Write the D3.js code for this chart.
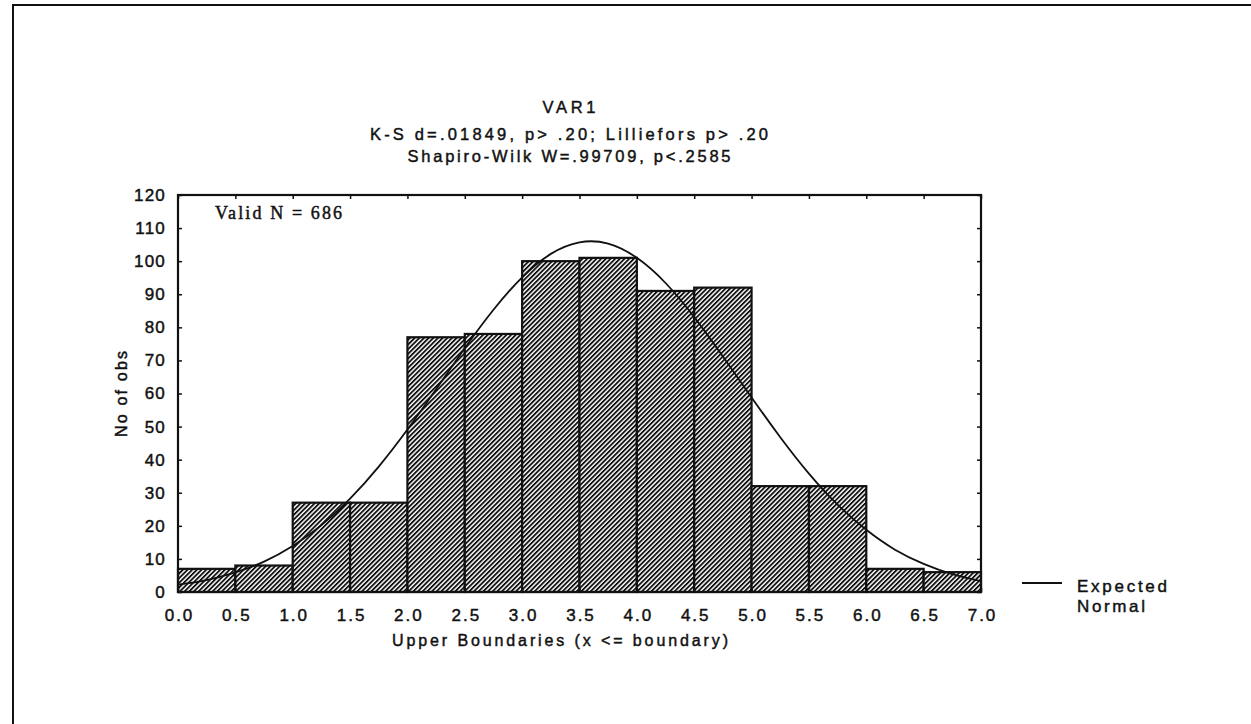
<!DOCTYPE html>
<html>
<head>
<meta charset="utf-8">
<script src="https://cdn.jsdelivr.net/npm/d3@7"></script>
<style>
  body { margin: 0; background: #fff; }
  svg text { font-family: "Liberation Sans", Arial, sans-serif; fill: #111; stroke: #111; stroke-width: 0.45px; }
</style>
</head>
<body>
<div id="chart"></div>
<script>
'use strict';

// histogram bins: upper boundaries and counts
const binUpper = [0.5, 1.0, 1.5, 2.0, 2.5, 3.0, 3.5, 4.0, 4.5, 5.0, 5.5, 6.0, 6.5, 7.0];
const binCounts = [7, 8, 27, 27, 77, 78, 100, 101, 91, 92, 32, 32, 7, 6];
const binWidth = 0.5;

// expected normal curve
const normalX = [0, 0.25, 0.5, 0.75, 1.0, 1.25, 1.5, 1.75, 2.0, 2.25, 2.5, 2.75, 3.0, 3.25, 3.5,
    3.75, 4.0, 4.25, 4.5, 4.75, 5.0, 5.25, 5.5, 5.75, 6.0, 6.25, 6.5, 6.75, 7.0];
const normalY = [2.2, 3.6, 5.9, 9.2, 13.9, 20.2, 28.2, 37.9, 49.1, 61.3, 73.7, 85.3, 95.1, 102.2, 105.7,
    105.3, 101.0, 93.4, 83.1, 71.2, 58.8, 46.8, 35.8, 26.4, 18.8, 12.8, 8.5, 5.4, 3.3];

const xTicks = [0, 0.5, 1, 1.5, 2, 2.5, 3, 3.5, 4, 4.5, 5, 5.5, 6, 6.5, 7];
const yTicks = [0, 10, 20, 30, 40, 50, 60, 70, 80, 90, 100, 110, 120];

const titleLines = ['VAR1', 'K-S d=.01849, p> .20; Lilliefors p> .20', 'Shapiro-Wilk W=.99709, p<.2585'];

const settings = {
    width: 1251,
    height: 724,
    elId: '#chart',
};

const plot = { left: 178, right: 981, top: 195, bottom: 592 };

const svg = d3.select(settings.elId)
    .append('svg')
    .attr('width', settings.width)
    .attr('height', settings.height);

// page frame (only top and left edges visible in the scan)
svg.append('path')
    .attr('d', `M13,${settings.height} L13,5 L${settings.width},5`)
    .attr('fill', 'none')
    .attr('stroke', '#111')
    .attr('stroke-width', 2);

// hatch pattern for the bars
const defs = svg.append('defs');
const hatch = defs.append('pattern')
    .attr('id', 'hatch')
    .attr('patternUnits', 'userSpaceOnUse')
    .attr('width', 3.3)
    .attr('height', 3.3)
    .attr('patternTransform', 'rotate(45)');
hatch.append('rect').attr('width', 3.3).attr('height', 3.3).attr('fill', '#fff');
hatch.append('line')
    .attr('x1', 0.9).attr('y1', 0).attr('x2', 0.9).attr('y2', 3.3)
    .attr('stroke', '#111').attr('stroke-width', 1.9);

const x = d3.scaleLinear().domain([0, 7]).range([plot.left, plot.right]);
const y = d3.scaleLinear().domain([0, 120]).range([plot.bottom, plot.top]);

// Title
svg.append('g')
    .attr('id', 'title')
    .selectAll('text')
    .data(titleLines)
    .enter()
    .append('text')
    .attr('x', 569)
    .attr('y', (_, i) => [113, 140, 162][i])
    .attr('text-anchor', 'middle')
    .attr('font-size', 16.5)
    .attr('textLength', (_, i) => [53, 398, 323][i])
    .attr('lengthAdjust', 'spacing')
    .text(d => d);

// Bars
svg.append('g')
    .attr('id', 'bars')
    .selectAll('rect')
    .data(binCounts)
    .enter()
    .append('rect')
    .attr('x', (_, i) => x(binUpper[i] - binWidth))
    .attr('y', d => y(d))
    .attr('width', (_, i) => x(binUpper[i]) - x(binUpper[i] - binWidth))
    .attr('height', d => y(0) - y(d))
    .attr('fill', 'url(#hatch)')
    .attr('stroke', '#111')
    .attr('stroke-width', 2.2);

// Expected normal curve
const line = d3.line()
    .x((d, i) => x(normalX[i]))
    .y(d => y(d))
    .curve(d3.curveNatural);

svg.append('path')
    .datum(normalY)
    .attr('d', line)
    .attr('fill', 'none')
    .attr('stroke', '#111')
    .attr('stroke-width', 1.8);

// Plot frame
svg.append('rect')
    .attr('x', plot.left)
    .attr('y', plot.top)
    .attr('width', plot.right - plot.left)
    .attr('height', plot.bottom - plot.top)
    .attr('fill', 'none')
    .attr('stroke', '#111')
    .attr('stroke-width', 2.2);

// Axes
const yAxis = d3.axisLeft(y).tickValues(yTicks).tickSize(-4).tickPadding(12).tickFormat(d3.format('d'));
const yRight = d3.axisRight(y).tickValues(yTicks).tickSize(-4).tickFormat('');
const xAxis = d3.axisBottom(x).tickValues(xTicks).tickSize(-4).tickPadding(17).tickFormat(d3.format('.1f'));
const xTop = d3.axisTop(x).tickValues(xTicks).tickSize(-4).tickFormat('');

function styleAxis(g) {
    g.select('.domain').remove();
    g.selectAll('.tick line').attr('stroke', '#111').attr('stroke-width', 1.5);
    g.selectAll('text').attr('fill', '#111').attr('font-size', 17);
}

svg.append('g')
    .attr('transform', `translate(${plot.left},0)`)
    .call(yAxis)
    .call(styleAxis)
    .selectAll('text')
    .attr('letter-spacing', 1.2);

svg.append('g')
    .attr('transform', `translate(${plot.right},0)`)
    .call(yRight)
    .call(styleAxis);

svg.append('g')
    .attr('transform', `translate(0,${plot.bottom})`)
    .call(xAxis)
    .call(styleAxis)
    .selectAll('text')
    .attr('letter-spacing', 2)
    .attr('dx', 1);

svg.append('g')
    .attr('transform', `translate(0,${plot.top})`)
    .call(xTop)
    .call(styleAxis);

// Axis titles
svg.append('text')
    .attr('x', 392)
    .attr('y', 646)
    .attr('font-size', 16)
    .attr('textLength', 336)
    .attr('lengthAdjust', 'spacing')
    .text('Upper Boundaries (x <= boundary)');

svg.append('text')
    .attr('transform', 'translate(127,394) rotate(-90)')
    .attr('text-anchor', 'middle')
    .attr('font-size', 16)
    .attr('textLength', 86)
    .attr('lengthAdjust', 'spacing')
    .text('No of obs');

// Valid N
svg.append('text')
    .attr('x', 215)
    .attr('y', 219)
    .attr('font-size', 18)
    .style('font-family', '"Liberation Serif", "Times New Roman", serif')
    .attr('textLength', 127)
    .attr('lengthAdjust', 'spacing')
    .text('Valid N = 686');

// Legend
const legend = svg.append('g').attr('id', 'legend');
legend.append('line')
    .attr('x1', 1022).attr('x2', 1062)
    .attr('y1', 583).attr('y2', 583)
    .attr('stroke', '#111').attr('stroke-width', 1.8);
legend.selectAll('text')
    .data(['Expected', 'Normal'])
    .enter()
    .append('text')
    .attr('x', 1077)
    .attr('y', (_, i) => 592 + i * 20)
    .attr('font-size', 17)
    .attr('textLength', (_, i) => [90, 68][i])
    .attr('lengthAdjust', 'spacing')
    .text(d => d);
</script>
</body>
</html>
